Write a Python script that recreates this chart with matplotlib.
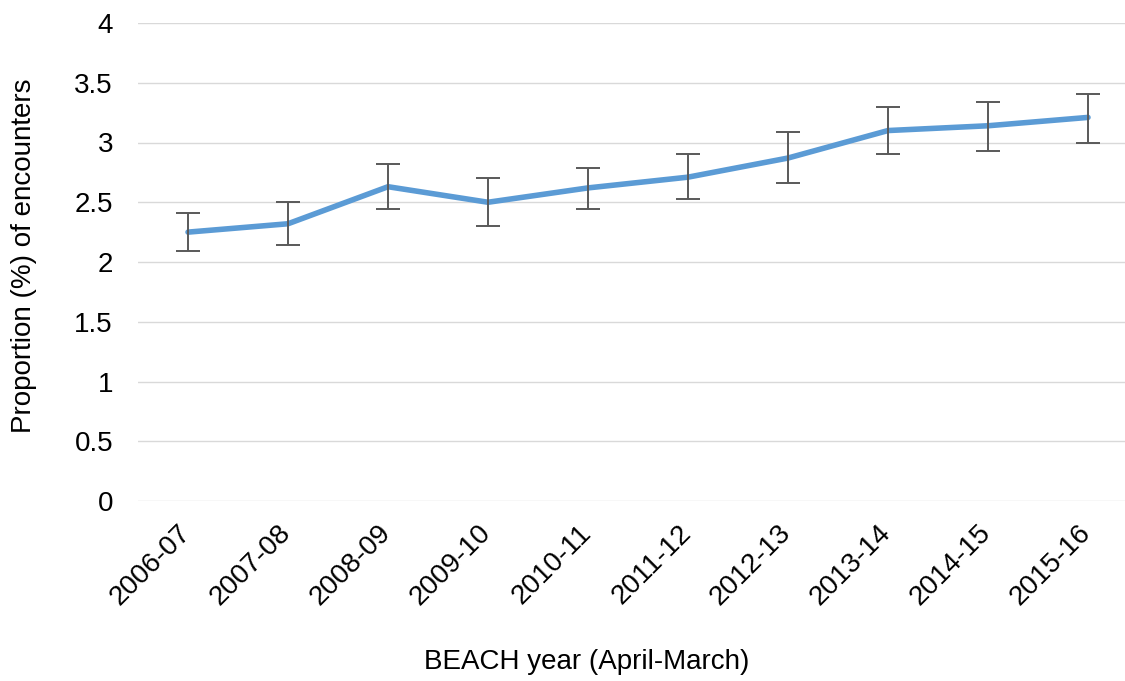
import matplotlib
matplotlib.use("Agg")
import matplotlib.pyplot as plt
import matplotlib.transforms as mtransforms
import numpy as np

plt.rcParams['font.family'] = ['Liberation Sans', 'DejaVu Sans']

years = ["2006-07", "2007-08", "2008-09", "2009-10", "2010-11",
         "2011-12", "2012-13", "2013-14", "2014-15", "2015-16"]
proportion = [2.25, 2.32, 2.63, 2.50, 2.62, 2.71, 2.87, 3.10, 3.14, 3.21]
ci_lower = [2.09, 2.14, 2.44, 2.30, 2.44, 2.53, 2.66, 2.90, 2.93, 3.00]
ci_upper = [2.41, 2.50, 2.82, 2.70, 2.79, 2.90, 3.09, 3.30, 3.34, 3.41]
y_ticks = [0, 0.5, 1, 1.5, 2, 2.5, 3, 3.5, 4]
y_tick_labels = ["0", "0.5", "1", "1.5", "2", "2.5", "3", "3.5", "4"]

W, H = 1125, 681
fig = plt.figure(figsize=(W / 100, H / 100), dpi=100)
left, right, bottom, top = 138, 1125, 501, 23
ax = fig.add_axes([left / W, (H - bottom) / H, (right - left) / W, (bottom - top) / H])

x = np.arange(len(years))
prop = np.array(proportion)
lo = prop - np.array(ci_lower)
hi = np.array(ci_upper) - prop

ax.plot(x, prop, color="#5B9BD5", linewidth=4.0, solid_capstyle="round",
        solid_joinstyle="round", zorder=3)
ax.errorbar(x, prop, yerr=[lo, hi], fmt="none", ecolor="#595959",
            elinewidth=1.4, capsize=8.4, capthick=1.4, zorder=4)

ax.set_ylim(0, 4)
ax.set_xlim(-0.5, -0.5 + (right - left) / 100)
ax.set_yticks(y_ticks)
ax.set_yticklabels(y_tick_labels)
ax.set_xticks(x)

ax.grid(axis="y", color="#D9D9D9", linewidth=1.0)
ax.set_axisbelow(True)
for s in ax.spines.values():
    s.set_visible(False)
ax.tick_params(axis="y", length=0, pad=18, labelsize=20, labelcolor="#000000")
ax.tick_params(axis="x", length=0, labelbottom=False)

# slanted year labels hanging below each category
label_shift = mtransforms.ScaledTranslation(-10 / 100, -19 / 100, fig.dpi_scale_trans)
for xi, yr in zip(x, years):
    ax.text(xi, 0, yr, transform=ax.get_xaxis_transform() + label_shift,
            rotation=45, rotation_mode="anchor", ha="right", va="top",
            fontsize=20, color="#000000")

fig.text(587 / W, 1 - 662 / H, "BEACH year (April-March)", ha="center", va="center",
         fontsize=20)
fig.text(24 / W, 1 - 256 / H, "Proportion (%) of encounters", ha="center", va="center",
         rotation=90, fontsize=20)

fig.savefig("out.png", dpi=100)
